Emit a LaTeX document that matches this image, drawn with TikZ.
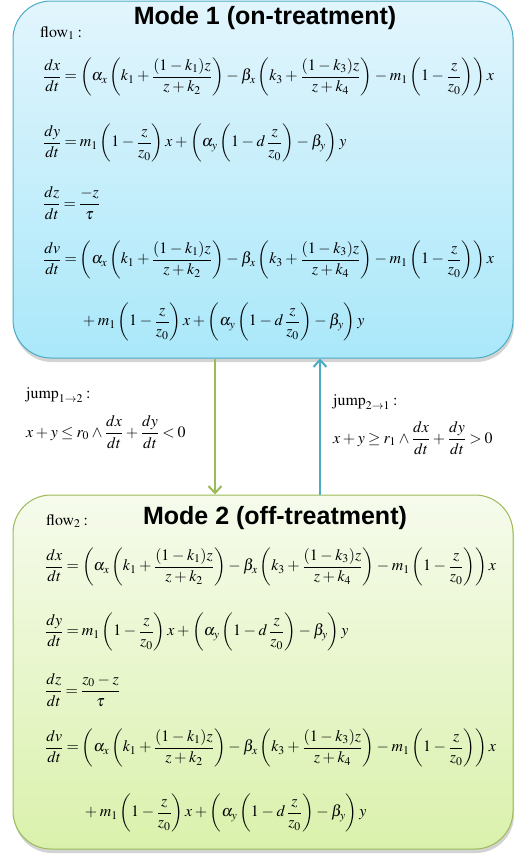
\documentclass[tikz,border=0pt]{standalone}
\usepackage{mathptmx}
\usepackage{fontspec}
\setmainfont{Liberation Serif}
\newfontfamily\headfont{Liberation Sans}
\usetikzlibrary{shadows,arrows.meta}
\definecolor{modeblue}{RGB}{75,172,198}
\definecolor{modegreen}{RGB}{155,187,89}
\medmuskip=3mu plus 1mu minus 1mu
\thickmuskip=3.5mu plus 1mu
\tikzset{
  modebox/.style={draw=#1, line width=1pt, rounded corners=38pt,
    minimum width=500pt, drop shadow={opacity=0.35, shadow xshift=1pt, shadow yshift=-4pt}},
  modetitle/.style={font=\headfont\bfseries\fontsize{25}{28}\selectfont},
  eqn/.style={anchor=west, inner sep=0pt, font=\fontsize{15.9}{19}\selectfont},
  trans/.style={line width=2.5pt, draw=#1, -{Straight Barb[length=7pt,width=13pt,line width=2pt]}}
}
\newcommand{\flowx}{\left(\alpha_x\left(k_1+\frac{(1-k_1)z}{z+k_2}\right)-\beta_x\left(k_3+\frac{(1-k_3)z}{z+k_4}\right)-m_1\left(1-\frac{z}{z_0}\right)\right)x}
\newcommand{\flowy}{m_1\left(1-\frac{z}{z_0}\right)x+\left(\alpha_y\left(1-d\,\frac{z}{z_0}\right)-\beta_y\right)y}
\begin{document}
\begin{tikzpicture}[x=1pt, y=-1pt]
  \useasboundingbox (0,0) rectangle (515,860);
  % mode 1 box
  \node[modebox=modeblue, minimum height=357pt, top color={rgb,255:red,226;green,245;blue,252},
    bottom color={rgb,255:red,170;green,232;blue,250}] (box1) at (263,179.5) {};
  \node[modetitle] (title1) at (265,18) {Mode 1 (on-treatment)};
  \node[eqn] (flow1) at (40,33) {$\mathrm{flow}_1:$};
  \node[eqn] (e1x) at (43,77) {$\displaystyle\frac{dx}{dt}=\flowx$};
  \node[eqn] (e1y) at (43,143) {$\displaystyle\frac{dy}{dt}=\flowy$};
  \node[eqn] (e1z) at (43,203) {$\displaystyle\frac{dz}{dt}=\frac{-z}{\tau}$};
  \node[eqn] (e1v) at (43,260) {$\displaystyle\frac{dv}{dt}=\flowx$};
  \node[eqn] (e1w) at (80,322) {$\displaystyle{}+\flowy$};
  % mode 2 box
  \node[modebox=modegreen, minimum height=354pt, top color={rgb,255:red,246;green,251;blue,236},
    bottom color={rgb,255:red,218;green,241;blue,172}] (box2) at (263,672) {};
  \node[modetitle] (title2) at (275,518) {Mode 2 (off-treatment)};
  \node[eqn] (flow2) at (46,521) {$\mathrm{flow}_2:$};
  \node[eqn] (e2x) at (45,567) {$\displaystyle\frac{dx}{dt}=\flowx$};
  \node[eqn] (e2y) at (45,632) {$\displaystyle\frac{dy}{dt}=\flowy$};
  \node[eqn] (e2z) at (45,690) {$\displaystyle\frac{dz}{dt}=\frac{z_0-z}{\tau}$};
  \node[eqn] (e2v) at (45,748) {$\displaystyle\frac{dv}{dt}=\flowx$};
  \node[eqn] (e2w) at (82,813) {$\displaystyle{}+\flowy$};
  % jumps
  \coordinate (down) at (215,0);
  \coordinate (up) at (320,0);
  \draw[trans=modegreen] (down |- box1.south) -- (down |- box2.north);
  \draw[trans=modeblue] (up |- box2.north) -- (up |- box1.south);
  \node[eqn] (j12) at (26,395) {$\mathrm{jump}_{1\to2}:$};
  \node[eqn] (c12) at (26,432) {$\displaystyle x+y\le r_0\wedge\frac{dx}{dt}+\frac{dy}{dt}<0$};
  \node[eqn] (j21) at (333,402) {$\mathrm{jump}_{2\to1}:$};
  \node[eqn] (c21) at (333,438) {$\displaystyle x+y\ge r_1\wedge\frac{dx}{dt}+\frac{dy}{dt}>0$};
\end{tikzpicture}
\end{document}
